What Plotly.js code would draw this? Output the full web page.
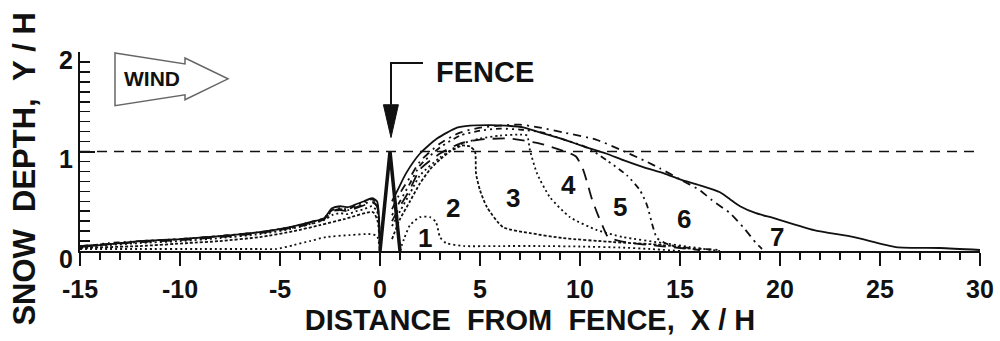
<!DOCTYPE html>
<html>
<head>
<meta charset="utf-8">
<script src="https://cdn.plot.ly/plotly-3.0.1.min.js"></script>
<style>
  html, body { margin: 0; padding: 0; background: #fff; }
  #chart { width: 1000px; height: 341px; }
</style>
</head>
<body>
<div id="chart"></div>
<script>
// Snow drift profiles behind a fence, stages 1-7 (depth and distance scaled by fence height H)

// Upwind side (x < 0) positions shared by stages 3-7
const upX = [-15, -13.5, -12, -10, -8, -6, -4.5, -3.5, -2.8, -2.4, -2.0, -1.6, -1.2, -0.8, -0.4, -0.15, 0];

// Stage 1
const s1UpX = [-15, -12, -9, -6, -5.2, -4.3, -3.5, -2.7, -1.5, -0.5, -0.15, 0];
const s1UpY = [0.02, 0.02, 0.02, 0.02, 0.02, 0.06, 0.10, 0.14, 0.16, 0.17, 0.15, 0];
const s1DnX = [1.0, 1.2, 1.5, 2.0, 2.5, 2.8, 3.0, 3.3, 4.2, 6, 8, 10, 12, 13.5, 15];
const s1DnY = [0.0, 0.12, 0.26, 0.34, 0.34, 0.29, 0.14, 0.08, 0.05, 0.05, 0.05, 0.045, 0.035, 0.02, 0.0];

// Stage 2
const s2UpX = [-15, -12, -9.6, -8, -6, -4.3, -3, -1.8, -0.35, -0.12, 0];
const s2UpY = [0.03, 0.05, 0.08, 0.10, 0.14, 0.20, 0.26, 0.32, 0.39, 0.30, 0];
const s2DnX = [0.6, 1.0, 1.5, 2.0, 2.5, 3.0, 3.5, 4.1, 4.5, 4.75, 4.8, 5.0, 5.35, 6.15, 7.5, 9.15, 11.65, 14.15, 16];
const s2DnY = [0.12, 0.32, 0.50, 0.68, 0.82, 0.92, 1.00, 1.06, 1.05, 1.00, 0.78, 0.61, 0.44, 0.24, 0.18, 0.13, 0.09, 0.06, 0.01];

// Stage 3
const s3UpY = [0.04, 0.06, 0.08, 0.10, 0.13, 0.17, 0.22, 0.27, 0.31, 0.36, 0.38, 0.37, 0.40, 0.42, 0.45, 0.40, 0];
const s3DnX = [0.6, 1.0, 1.5, 2.0, 3.0, 4.0, 5.0, 6.0, 7.0, 7.35, 7.5, 7.85, 8.5, 9.5, 10.85, 12.15, 14.15, 15.5, 17];
const s3DnY = [0.25, 0.40, 0.58, 0.76, 0.94, 1.07, 1.13, 1.16, 1.17, 1.16, 1.01, 0.78, 0.54, 0.34, 0.21, 0.14, 0.08, 0.04, 0.0];

// Stage 4
const s4UpY = [0.05, 0.07, 0.09, 0.11, 0.14, 0.18, 0.23, 0.28, 0.32, 0.40, 0.41, 0.40, 0.43, 0.46, 0.49, 0.45, 0];
const s4DnX = [0.6, 1.0, 1.5, 2.0, 3.0, 4.0, 5.0, 6.5, 8.0, 9.25, 9.8, 10.15, 10.4, 10.6, 10.9, 11.2, 11.4, 12, 13, 14, 15, 16];
const s4DnY = [0.30, 0.45, 0.62, 0.82, 0.98, 1.08, 1.12, 1.13, 1.08, 1.00, 0.95, 0.82, 0.66, 0.52, 0.36, 0.22, 0.14, 0.10, 0.07, 0.05, 0.03, 0.01];

// Stage 5
const s5UpY = [0.04, 0.08, 0.10, 0.12, 0.15, 0.19, 0.24, 0.29, 0.33, 0.41, 0.43, 0.42, 0.46, 0.49, 0.52, 0.48, 0];
const s5DnX = [0.6, 1.0, 1.5, 2.0, 3.0, 4.0, 5.0, 6.0, 7.0, 8.15, 9.2, 10.35, 11.35, 12.35, 13.0, 13.35, 13.65, 13.85, 14.5, 15.5, 17];
const s5DnY = [0.36, 0.50, 0.68, 0.86, 1.04, 1.16, 1.21, 1.23, 1.22, 1.19, 1.12, 1.04, 0.91, 0.76, 0.61, 0.46, 0.24, 0.13, 0.06, 0.03, 0.01];

// Stage 6
const s6UpY = [0.05, 0.07, 0.09, 0.12, 0.15, 0.19, 0.23, 0.27, 0.32, 0.40, 0.42, 0.41, 0.44, 0.47, 0.50, 0.45, 0];
const s6DnX = [0.6, 1.0, 1.5, 2.0, 3.0, 4.0, 5.0, 6.0, 7.0, 8.0, 9.2, 10.8, 12.0, 13.2, 14.0, 15.0, 16.0, 16.6, 17.5, 18.2, 18.8, 19.1];
const s6DnY = [0.42, 0.58, 0.74, 0.90, 1.08, 1.19, 1.24, 1.26, 1.27, 1.24, 1.19, 1.12, 1.02, 0.91, 0.83, 0.72, 0.61, 0.51, 0.38, 0.23, 0.08, 0.02];

// Stage 7 (final drift)
const s7UpY = [0.04, 0.07, 0.10, 0.12, 0.15, 0.19, 0.24, 0.29, 0.33, 0.43, 0.45, 0.44, 0.47, 0.50, 0.53, 0.50, 0];
const s7DnX = [0.6, 0.9, 1.3, 2.0, 2.85, 3.85, 4.5, 5.5, 6.3, 7.2, 8.2, 9.2, 10.2, 11.3, 12.2, 13.2, 14.2, 15.0, 16.0, 17.0, 17.5, 18.0, 18.8, 19.7, 21.7, 23.7, 25.8, 28, 30];
const s7DnY = [0.50, 0.62, 0.78, 0.98, 1.13, 1.24, 1.26, 1.265, 1.26, 1.24, 1.18, 1.12, 1.05, 0.98, 0.91, 0.84, 0.78, 0.72, 0.66, 0.59, 0.52, 0.45, 0.38, 0.33, 0.21, 0.14, 0.04, 0.03, 0.01];

// Fence profile
const fenceX = [0, 0.5, 1.0];
const fenceY = [0, 1.0, 0];

// Stage labels
const stageNames = ['1', '2', '3', '4', '5', '6', '7'];
const stageLabelX = [2.25, 3.65, 6.65, 9.4, 12.0, 15.2, 19.85];
const stageLabelY = [0.13, 0.43, 0.53, 0.66, 0.44, 0.32, 0.14];

// Axis tick values and labels (plain hyphen for negatives)
const xTickVals = [-15, -10, -5, 0, 5, 10, 15, 20, 25, 30];
const xTickText = ['-15', '-10', '-5', '0', '5', '10', '15', '20', '25', '30'];
const yTickVals = [0, 1, 2];
const yTickText = ['0', '1', '2'];

const ink = '#111';
const stages = [
  { ux: s1UpX, uy: s1UpY, dx: s1DnX, dy: s1DnY, dash: '2px,3px' },
  { ux: s2UpX, uy: s2UpY, dx: s2DnX, dy: s2DnY, dash: '3px,2px' },
  { ux: upX, uy: s3UpY, dx: s3DnX, dy: s3DnY, dash: '2px,3px' },
  { ux: upX, uy: s4UpY, dx: s4DnX, dy: s4DnY, dash: '12px,8px' },
  { ux: upX, uy: s5UpY, dx: s5DnX, dy: s5DnY, dash: '2px,4px,2px,4px,6px,4px' },
  { ux: upX, uy: s6UpY, dx: s6DnX, dy: s6DnY, dash: '8px,5px,2px,5px' },
  { ux: upX, uy: s7UpY, dx: s7DnX, dy: s7DnY, dash: 'solid' }
];

const traces = [];
stages.forEach((s, i) => {
  const line = { color: ink, width: 1.8, dash: s.dash, shape: 'spline', smoothing: 0.6 };
  traces.push({ x: s.ux, y: s.uy, mode: 'lines', line, name: 'Stage ' + stageNames[i] + ' upwind', hoverinfo: 'skip' });
  traces.push({ x: s.dx, y: s.dy, mode: 'lines', line, name: 'Stage ' + stageNames[i], hoverinfo: 'skip' });
});
traces.push({ x: fenceX, y: fenceY, mode: 'lines', line: { color: ink, width: 3.5 }, name: 'Fence', hoverinfo: 'skip' });

const sans = 'Liberation Sans, Arial, sans-serif';
const labelFont = { family: sans, size: 26, color: ink, weight: 'bold' };
const titleFont = { family: sans, size: 29, color: ink, weight: 'bold' };
const tickFont = { family: sans, size: 25, color: ink, weight: 'bold' };
const sp = '\u00A0';

const annotations = stageNames.map((t, i) => ({
  x: stageLabelX[i], y: stageLabelY[i], xref: 'x', yref: 'y', text: t, showarrow: false, font: labelFont
}));
annotations.push({
  x: 5.25, y: 1.80, xref: 'x', yref: 'y', text: 'FENCE', showarrow: false,
  font: { family: sans, size: 29, color: ink, weight: 'bold' }
});
annotations.push({
  x: -11.4, y: 1.73, xref: 'x', yref: 'y', text: 'WIND', showarrow: false,
  font: { family: sans, size: 21, color: ink, weight: 'bold' }
});
// vertical axis title
annotations.push({
  x: -0.062, y: 0.41, xref: 'paper', yref: 'paper', xanchor: 'center', yanchor: 'middle',
  text: 'SNOW' + sp + sp + 'DEPTH,' + sp + sp + 'Y' + sp + '/' + sp + 'H', textangle: -90,
  showarrow: false, font: { family: sans, size: 31, color: ink, weight: 'bold' }
});

const shapes = [
  // reference depth Y = H
  { type: 'line', xref: 'paper', yref: 'y', x0: 0, x1: 1, y0: 1, y1: 1,
    line: { color: ink, width: 1.6, dash: '10px,7px' } },
  // wind block arrow
  { type: 'path', xref: 'x', yref: 'y',
    path: 'M -13.25,1.99 L -9.75,1.88 L -9.75,1.94 L -7.6,1.73 L -9.75,1.52 L -9.75,1.57 L -13.25,1.46 Z',
    line: { color: '#666', width: 1.5 }, fillcolor: 'rgba(0,0,0,0)' },
  // fence pointer
  { type: 'path', xref: 'x', yref: 'y',
    path: 'M 2.15,1.89 L 0.55,1.89 L 0.55,1.47',
    line: { color: ink, width: 2 } },
  { type: 'path', xref: 'x', yref: 'y',
    path: 'M 0.17,1.47 L 0.92,1.47 L 0.55,1.14 Z',
    line: { color: ink, width: 1 }, fillcolor: ink }
];

const layout = {
  width: 1000, height: 341,
  margin: { l: 80, r: 20, t: 52, b: 90 },
  paper_bgcolor: '#fff', plot_bgcolor: '#fff',
  showlegend: false,
  xaxis: {
    range: [-15, 30], showgrid: false, zeroline: false,
    showline: true, linecolor: ink, linewidth: 2,
    ticks: 'outside', ticklen: 13, tickwidth: 2, tickcolor: ink,
    tickmode: 'array', tickvals: xTickVals, ticktext: xTickText,
    tickfont: tickFont, ticklabelstandoff: 2,
    minor: { ticks: 'outside', dtick: 1, tick0: -15, ticklen: 7, tickwidth: 1.5, tickcolor: ink },
    title: { text: 'DISTANCE' + sp + sp + 'FROM' + sp + sp + 'FENCE,' + sp + sp + 'X' + sp + '/' + sp + 'H', font: titleFont, standoff: 8 },
    fixedrange: true
  },
  yaxis: {
    range: [0, 2], showgrid: false, zeroline: false,
    showline: true, linecolor: ink, linewidth: 2,
    ticks: 'inside', ticklen: 15, tickwidth: 2, tickcolor: ink,
    tickmode: 'array', tickvals: yTickVals, ticktext: yTickText,
    tickfont: tickFont, ticklabelshift: 8,
    minor: { ticks: 'inside', dtick: 0.1, tick0: 0, ticklen: 10, tickwidth: 1.5, tickcolor: ink },
    fixedrange: true
  },
  annotations, shapes
};

Plotly.newPlot('chart', traces, layout, { staticPlot: true, displayModeBar: false });
</script>
</body>
</html>
